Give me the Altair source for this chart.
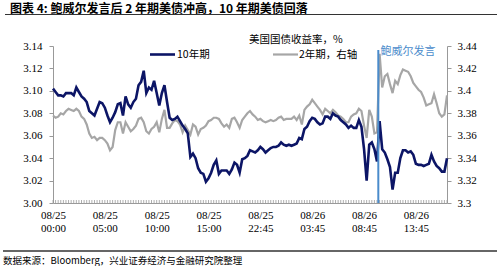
import altair as alt
import pandas as pd

# ---------------- data ----------------
tick_labels = ["08/25 00:00", "08/25 05:00", "08/25 10:00", "08/25 15:00",
               "08/25 22:45", "08/26 03:45", "08/26 08:45", "08/26 13:45"]

t10 = [
    3.102, 3.099, 3.096, 3.096, 3.095, 3.098, 3.098, 3.098, 3.096, 3.103,
    3.099, 3.095, 3.093, 3.090, 3.082, 3.080, 3.078, 3.084, 3.090, 3.089,
    3.085, 3.078, 3.072, 3.076, 3.081, 3.088, 3.089, 3.078, 3.095, 3.088,
    3.085, 3.090, 3.093, 3.105, 3.108, 3.118, 3.098, 3.103, 3.101, 3.109,
    3.098, 3.087, 3.098, 3.105, 3.090, 3.076, 3.074, 3.075, 3.077, 3.073,
    3.069, 3.066, 3.062, 3.041, 3.044, 3.040, 3.031, 3.027, 3.026, 3.019,
    3.022, 3.027, 3.034, 3.038, 3.026, 3.029, 3.029, 3.029, 3.026, 3.030,
    3.036, 3.034, 3.027, 3.039, 3.040, 3.042, 3.047, 3.046, 3.045, 3.047,
    3.050, 3.048, 3.045, 3.047, 3.049, 3.050, 3.050, 3.051, 3.054, 3.052,
    3.051, 3.052, 3.051, 3.052, 3.053, 3.058, 3.057, 3.066, 3.068, 3.073,
    3.076, 3.075, 3.072, 3.070, 3.071, 3.077, 3.077, 3.075, 3.080, 3.078,
    3.077, 3.074, 3.072, 3.070, 3.067, 3.069, 3.067, 3.067, 3.074, 3.068,
    3.048, 3.020, 3.052, 3.054, 3.048, 3.037, 3.073, 3.048, 3.045, 3.039,
    3.032, 3.012, 3.027, 3.027, 3.040, 3.047, 3.047, 3.045, 3.046, 3.043,
    3.035, 3.034, 3.034, 3.033, 3.034, 3.035, 3.043, 3.037, 3.033, 3.031,
    3.028, 3.028, 3.040]

t2 = [
    3.378, 3.376, 3.377, 3.380, 3.379, 3.382, 3.384, 3.383, 3.382, 3.384,
    3.382, 3.377, 3.375, 3.370, 3.362, 3.358, 3.359, 3.356, 3.358, 3.358,
    3.356, 3.353, 3.347, 3.350, 3.365, 3.372, 3.372, 3.362, 3.372, 3.368,
    3.364, 3.366, 3.369, 3.375, 3.376, 3.372, 3.364, 3.362, 3.366, 3.368,
    3.372, 3.363, 3.375, 3.383, 3.367, 3.367, 3.371, 3.374, 3.373, 3.370,
    3.363, 3.369, 3.365, 3.361, 3.370, 3.368, 3.361, 3.366, 3.367, 3.369,
    3.373, 3.374, 3.376, 3.376, 3.375, 3.371, 3.368, 3.370, 3.367, 3.375,
    3.376, 3.372, 3.367, 3.374, 3.377, 3.380, 3.382, 3.379, 3.377, 3.374,
    3.375, 3.373, 3.372, 3.373, 3.374, 3.373, 3.374, 3.376, 3.377, 3.374,
    3.375, 3.375, 3.375, 3.377, 3.374, 3.378, 3.370, 3.383, 3.386, 3.388,
    3.392, 3.389, 3.386, 3.383, 3.379, 3.384, 3.382, 3.380, 3.383, 3.381,
    3.378, 3.377, 3.375, 3.372, 3.372, 3.377, 3.379, 3.380, 3.384, 3.382,
    3.369, 3.358, 3.383, 3.377, 3.362, 3.363, 3.433, 3.403, 3.413, 3.415,
    3.406, 3.398, 3.409, 3.406, 3.414, 3.419, 3.418, 3.417, 3.413, 3.407,
    3.404, 3.401, 3.399, 3.394, 3.387, 3.388, 3.389, 3.397, 3.389, 3.380,
    3.377, 3.379, 3.396]

left_ticks = [3.00, 3.02, 3.04, 3.06, 3.08, 3.10, 3.12, 3.14]
right_ticks = [3.30, 3.32, 3.34, 3.36, 3.38, 3.40, 3.42, 3.44]
label_step = 20
powell_pos = [125.5]

title_text = "图表 4:  鲍威尔发言后 2 年期美债冲高，10 年期美债回落"
legend_title = "美国国债收益率，%"
name10 = "10年期"
name2 = "2年期，右轴"
powell_text = "鲍威尔发言"
source_text = "数据来源：Bloomberg，兴业证券经济与金融研究院整理"

# ---------------- chart ----------------
n = len(t10)
df = pd.DataFrame({"i": list(range(n)), "t10": t10, "t2": t2})
label_pos = list(range(0, n, label_step))[: len(tick_labels)]

W, H = 394, 157
NAVY = "#0c1566"
GRAY = "#a6a6a6"
BLUE = "#4a8bcb"
AXC = "#999999"
SERIF = "Liberation Serif"
CJK = "Noto Sans CJK SC"

label_arr = "[" + ",".join("'" + s + "'" for s in tick_labels) + "]"
xexpr = "split(" + label_arr + "[round(datum.value / " + str(label_step) + ")], ' ')"

xenc = alt.X(
    "i:Q",
    scale=alt.Scale(domain=[0, n - 1], nice=False, zero=False),
    axis=alt.Axis(values=label_pos, labelExpr=xexpr, title=None, grid=False,
                  ticks=False, domainColor=AXC, labelFont=SERIF,
                  labelFontSize=11, labelColor="black", labelPadding=6,
                  labelOverlap=False, labelFlush=False, labelLineHeight=13,
                  labelBaseline="top"),
)

base = alt.Chart(df)

# dense category tick marks along the bottom axis
minor_ticks = base.mark_rule(color=AXC, strokeWidth=0.8).encode(
    x="i:Q", y=alt.value(H - 3), y2=alt.value(H))

line2 = base.mark_line(color=GRAY, strokeWidth=2.2).encode(
    x=xenc,
    y=alt.Y("t2:Q", scale=alt.Scale(domain=[3.30, 3.44], nice=False, zero=False),
            axis=alt.Axis(orient="right", values=right_ticks, format=".2~f", title=None,
                          grid=False, tickSize=4, tickColor=AXC, domainColor=AXC,
                          labelFont=SERIF, labelFontSize=11, labelColor="black",
                          labelPadding=6)),
)

line10 = base.mark_line(color=NAVY, strokeWidth=2.6).encode(
    x=xenc,
    y=alt.Y("t10:Q", scale=alt.Scale(domain=[3.00, 3.14], nice=False, zero=False),
            axis=alt.Axis(orient="left", values=left_ticks, format=".2f", title=None,
                          grid=False, tickSize=4, tickColor=AXC, domainColor=AXC,
                          labelFont=SERIF, labelFontSize=11, labelColor="black",
                          labelPadding=7)),
)

powell = alt.Chart(pd.DataFrame({"i": powell_pos})).mark_rule(
    color=BLUE, strokeWidth=2).encode(x="i:Q", y=alt.value(4), y2=alt.value(H))


def txt(s, x, y, size=11, color="black", align="left", weight="normal", font=CJK):
    return alt.Chart(pd.DataFrame({"t": [s]})).mark_text(
        align=align, baseline="middle", fontSize=size, color=color,
        fontWeight=weight, font=font).encode(text="t:N", x=alt.value(x), y=alt.value(y))


def hrule(x1, x2, y, color="black", w=1.0):
    return alt.Chart(pd.DataFrame({"a": [0]})).mark_rule(
        color=color, strokeWidth=w).encode(x=alt.value(x1), x2=alt.value(x2), y=alt.value(y))


lines = alt.layer(line2, line10).resolve_scale(y="independent")

chart = alt.layer(
    lines,
    minor_ticks,
    powell,
    txt(title_text, -43, -37, size=12, weight="bold"),
    hrule(-48, 444, -31.5, color="#333333", w=1),
    txt(legend_title, 196, -6, size=10.5),
    hrule(97, 122, 8.5, color=NAVY, w=2.6),
    txt(name10, 124, 8.5, size=10.5),
    hrule(220, 245, 8.5, color=GRAY, w=2.2),
    txt(name2, 246, 8.5, size=10.5),
    txt(powell_text, 355, 6, size=11, color=BLUE, align="center"),
    hrule(-50, 444, 205, color="#333333", w=1.5),
    txt(source_text, -50, 215, size=9.5),
).properties(
    width=W, height=H,
    autosize=alt.AutoSizeParams(type="none"),
    padding={"left": 53, "top": 46, "right": 53, "bottom": 63},
    background="white",
).configure_view(stroke=None)

chart.save("out.html", embed_options={"renderer": "svg", "actions": False})
